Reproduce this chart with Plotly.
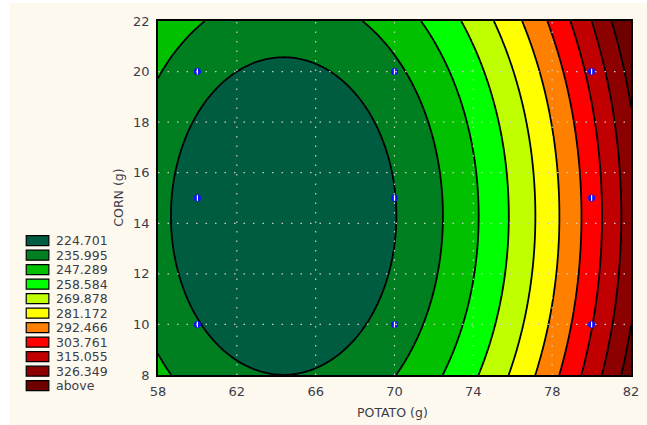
import numpy as np
import plotly.graph_objects as go

# ---- data ----
potato = [60, 60, 60, 70, 70, 70, 80, 80, 80]          # design points (g)
corn = [10, 15, 20, 10, 15, 20, 10, 15, 20]             # design points (g)
response = [225.3, 220.1, 229.4, 229.6, 224.5, 233.7, 303.2, 298.1, 307.3]

levels = [224.701, 235.995, 247.289, 258.584, 269.878, 281.172,
          292.466, 303.761, 315.055, 326.349]
legend_labels = [f"{v:.3f}" for v in levels] + ["above"]
band_colors = ["#005C40", "#007F20", "#00C000", "#00FF00", "#C0FF00", "#FFFF00",
               "#FF8000", "#FF0000", "#C00000", "#8C0000", "#6E0000"]

x_ticks = [58, 62, 66, 70, 74, 78, 82]
y_ticks = [8, 10, 12, 14, 16, 18, 20, 22]

# ---- quadratic response surface fitted to the design points ----
px = np.array(potato, float)
py = np.array(corn, float)
pz = np.array(response, float)
A = np.column_stack([np.ones_like(px), px, py, px**2, py**2, px*py])
coef, *_ = np.linalg.lstsq(A, pz, rcond=None)

gx = np.linspace(x_ticks[0], x_ticks[-1], 241)
gy = np.linspace(y_ticks[0], y_ticks[-1], 141)
GX, GY = np.meshgrid(gx, gy)
GZ = (coef[0] + coef[1]*GX + coef[2]*GY + coef[3]*GX**2 + coef[4]*GY**2
      + coef[5]*GX*GY)

n = len(band_colors)
colorscale = [[i/(n-1), c] for i, c in enumerate(band_colors)]
step = (levels[-1] - levels[0]) / (len(levels) - 1)

BG = "#FDF9EF"
TXT = "#3C3C48"
FONT = "DejaVu Sans"

fig = go.Figure()
fig.add_trace(go.Contour(
    x=gx, y=gy, z=GZ,
    colorscale=colorscale, showscale=False,
    autocontour=False,
    contours=dict(start=levels[0], end=levels[-1], size=step, coloring="fill"),
    line=dict(color="black", width=1.8),
    hoverinfo="skip",
))

# grid (dotted) drawn above the fill
shapes = []
for xv in x_ticks[1:-1]:
    shapes.append(dict(type="line", xref="x", yref="y", x0=xv, x1=xv,
                       y0=y_ticks[0], y1=y_ticks[-1], layer="above",
                       line=dict(color="#CCCCCC", width=1.2, dash="1.5px,8px")))
for yv in y_ticks[1:-1]:
    shapes.append(dict(type="line", xref="x", yref="y", y0=yv, y1=yv,
                       x0=x_ticks[0], x1=x_ticks[-1], layer="above",
                       line=dict(color="#CCCCCC", width=1.2, dash="1.5px,8px")))

# design points
fig.add_trace(go.Scatter(x=potato, y=corn, mode="markers",
                         marker=dict(color="#1010FF", size=7, line=dict(width=0)),
                         hoverinfo="skip"))
fig.add_trace(go.Scatter(x=potato, y=corn, mode="markers",
                         marker=dict(symbol="line-ns", color="white", size=4,
                                     line=dict(color="white", width=1.2)),
                         hoverinfo="skip"))

# page offset of the figure (white strip at top/left as in the reference)
OX, OY = 10, 3
W, H = 647 - OX, 425 - OY
L, R, T, B = 158 - OX, 8, 21 - OY, 50
pw, ph = W - L - R, H - T - B

def xp(pix):
    return (pix - OX - L) / pw

def yp(pix):
    return (H - B - (pix - OY)) / ph

annotations = []
for i, (lab, col) in enumerate(zip(legend_labels, band_colors)):
    cy = 240.7 + 14.5 * i
    shapes.append(dict(type="rect", xref="paper", yref="paper",
                       x0=xp(24), x1=xp(47), y0=yp(cy + 5), y1=yp(cy - 5),
                       fillcolor=col, line=dict(color="black", width=1.2)))
    annotations.append(dict(text=lab, xref="paper", yref="paper",
                            x=xp(52), y=yp(cy), xanchor="left", yanchor="middle",
                            showarrow=False, font=dict(family=FONT, size=12.5, color=TXT)))

annotations.append(dict(text="POTATO (g)", xref="paper", yref="paper",
                        x=xp(396), y=yp(412), xanchor="center", yanchor="middle",
                        showarrow=False, font=dict(family=FONT, size=12.5, color=TXT)))
annotations.append(dict(text="CORN (g)", xref="paper", yref="paper",
                        x=xp(117), y=yp(198), xanchor="center", yanchor="middle",
                        textangle=-90, showarrow=False,
                        font=dict(family=FONT, size=12.5, color=TXT)))

axis_common = dict(showgrid=False, zeroline=False, showline=True, mirror=True,
                   linecolor="black", linewidth=1.5, ticks="",
                   tickfont=dict(family=FONT, size=13, color=TXT))
fig.update_xaxes(range=[x_ticks[0], x_ticks[-1]], tickvals=x_ticks,
                 ticklabelstandoff=4, **axis_common)
fig.update_yaxes(range=[y_ticks[0], y_ticks[-1]], tickvals=y_ticks,
                 ticklabelstandoff=4, **axis_common)

fig.update_layout(width=W, height=H, margin=dict(l=L, r=R, t=T, b=B),
                  paper_bgcolor=BG, plot_bgcolor=BG, showlegend=False,
                  shapes=shapes, annotations=annotations)
fig.write_html("out.html",
               post_script=f"document.body.style.margin='{OY}px 0 0 {OX}px';"
                           "document.body.style.background='white';")
